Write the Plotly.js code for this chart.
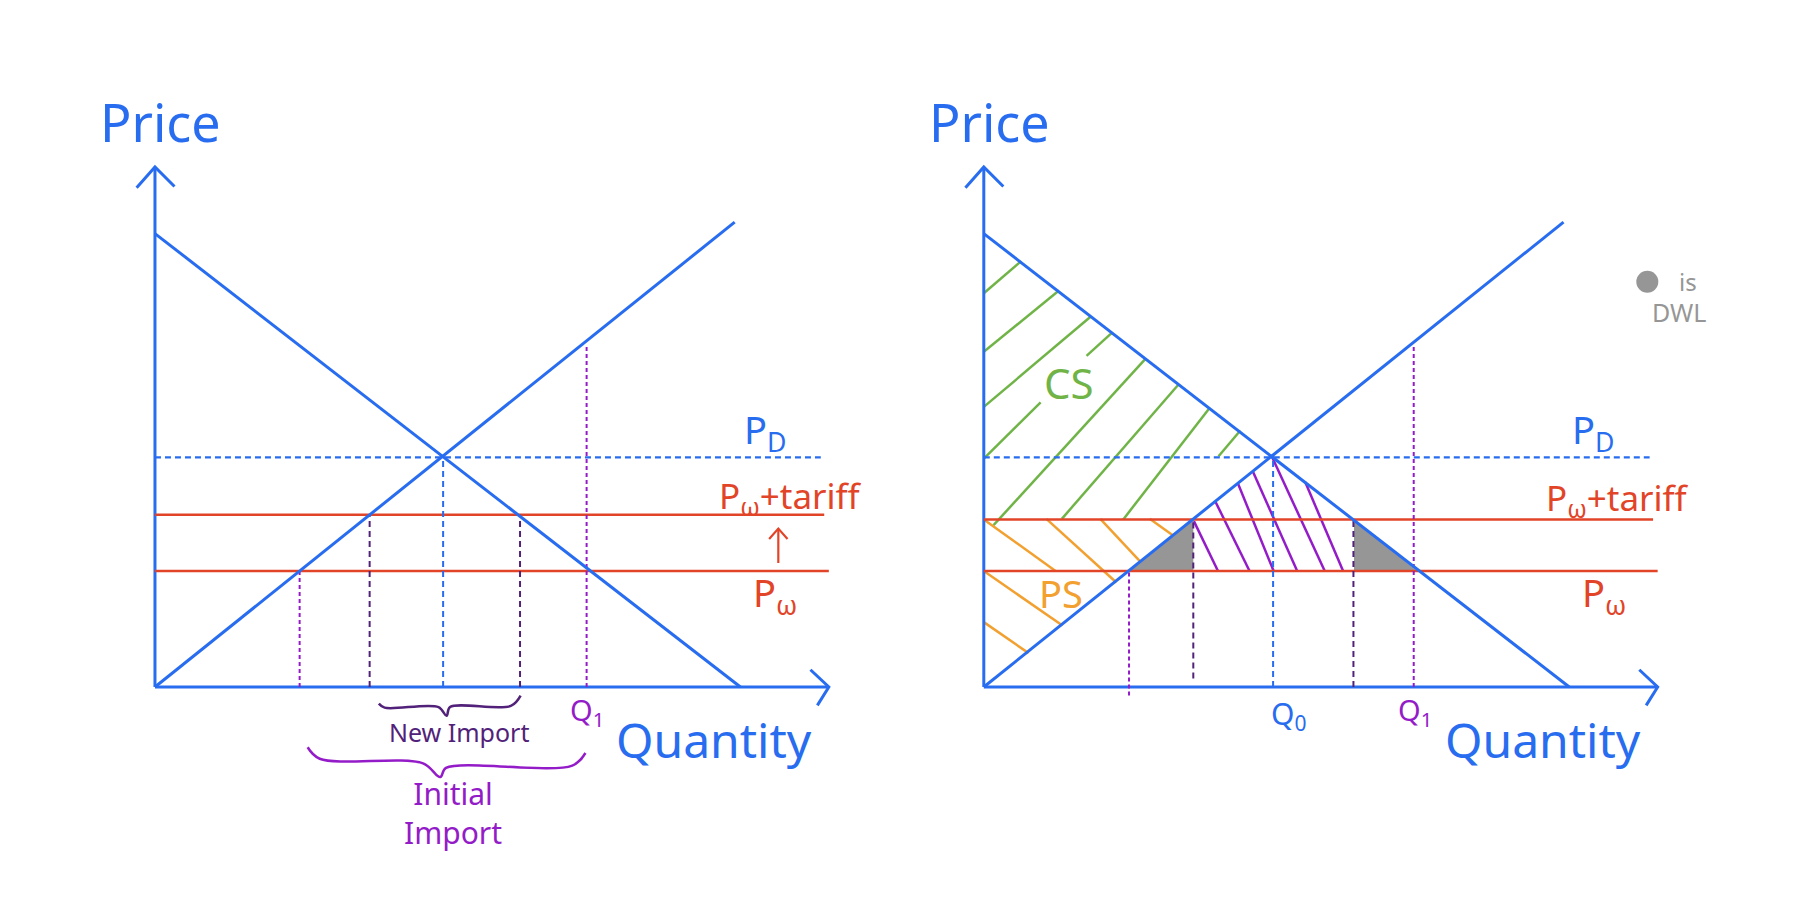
<!DOCTYPE html>
<html>
<head>
<meta charset="utf-8">
<script src="https://cdn.plot.ly/plotly-3.0.1.min.js"></script>
<style>html,body{margin:0;padding:0;background:#fff;}#chart{width:1800px;height:920px;}</style>
</head>
<body>
<div id="chart"></div>
<script>
// ---------- data (economic units) ----------
const demandQ = [0, 10.2];
const demandP = [7.9, 0];
const supplyQ = [0, 10.1];
const supplyP = [0, 8.1];
const priceDomestic = 4.0;
const priceWorld = 2.02;
const priceTariffLeft = 3.0;
const priceTariffRight = 2.92;
const hLineEnds = [11.6, 11.66, 11.74];          // PD, Pw+tariff, Pw line ends
const axisEndQ = 11.74;
const axisEndP = 9.06;

// vertical guide lines: quantity, top price, bottom price
const leftVertQ = [2.52, 3.74, 5.02, 6.36, 7.52];
const leftVertTop = [2.02, 3.0, 4.0, 3.0, 5.95];
const leftVertBottom = [0, 0, 0, 0, 0];
const rightVertQ = [2.53, 3.65, 5.04, 6.44, 7.49];
const rightVertTop = [2.02, 2.92, 4.0, 2.92, 5.94];
const rightVertBottom = [-0.15, 0.15, 0, 0, 0];

// hatch segments [q0, p0, q1, p1]
const csHatch = [
  [0, 6.86, 0.65, 7.42],
  [0, 5.84, 1.31, 6.91],
  [0, 4.88, 1.87, 6.46],
  [0, 3.98, 0.99, 4.96],
  [1.79, 5.77, 2.24, 6.18],
  [0.17, 2.82, 2.82, 5.72],
  [1.36, 2.93, 3.40, 5.28],
  [2.43, 2.92, 3.94, 4.87],
  [4.09, 4.02, 4.47, 4.47]
];
const psHatch = [
  [0, 2.92, 1.25, 2.02],
  [1.09, 2.93, 2.31, 1.82],
  [2.03, 2.93, 2.73, 2.18],
  [2.89, 2.93, 3.31, 2.63],
  [0, 2.02, 1.37, 1.07],
  [0, 1.13, 0.78, 0.59]
];
const revHatch = [
  [3.66, 2.89, 4.08, 2.02],
  [4.04, 3.22, 4.63, 2.02],
  [4.43, 3.54, 5.05, 2.02],
  [4.69, 3.75, 5.46, 2.02],
  [5.02, 4.01, 5.94, 2.02],
  [5.60, 3.57, 6.26, 2.02]
];
const dwlLeftQ = [2.53, 3.65, 3.65];
const dwlLeftP = [2.02, 2.92, 2.02];
const dwlRightQ = [6.45, 6.45, 7.55];
const dwlRightP = [2.92, 2.02, 2.02];

// braces
const newBraceQ = [3.90, 4.0, 4.94, 5.08, 5.14, 6.2, 6.37];
const newBraceP = [-0.29, -0.36, -0.35, -0.50, -0.35, -0.33, -0.15];
const initBraceQ = [2.66, 2.87, 4.67, 4.97, 5.07, 7.27, 7.5];
const initBraceP = [-1.05, -1.25, -1.33, -1.57, -1.41, -1.37, -1.15];

// ---------- styling ----------
const BLUE = 'rgb(40,108,240)';
const RED = 'rgb(226,68,40)';
const GREEN = 'rgb(112,180,72)';
const ORANGE = 'rgb(242,160,48)';
const PURPLE = 'rgb(148,28,200)';
const DPURPLE = 'rgb(82,34,122)';
const GREY = 'rgb(150,150,150)';
const FONT = 'Noto Sans, sans-serif';

const traces = [];
function line(xs, ys, color, width, dash, xa, shape) {
  traces.push({type: 'scatter', mode: 'lines', x: xs, y: ys, xaxis: xa, yaxis: 'y',
    line: {color: color, width: width, dash: dash || 'solid', shape: shape || 'linear'},
    hoverinfo: 'skip', showlegend: false});
}
function segs(list, color, width, xa) {
  list.forEach(s => line([s[0], s[2]], [s[1], s[3]], color, width, 'solid', xa));
}

function panel(xa, tariffP, vQ, vTop, vBot) {
  // axes
  line([0, 0], [0, axisEndP], BLUE, 3, 'solid', xa);
  line([-0.32, 0, 0.34], [axisEndP - 0.36, axisEndP, axisEndP - 0.34], BLUE, 3, 'solid', xa);
  line([0, axisEndQ], [0, 0], BLUE, 3, 'solid', xa);
  line([axisEndQ - 0.32, axisEndQ, axisEndQ - 0.2], [0.3, 0, -0.32], BLUE, 3, 'solid', xa);
  // horizontal price lines
  line([0, hLineEnds[0]], [priceDomestic, priceDomestic], BLUE, 2.2, '6px,4px', xa);
  line([0, hLineEnds[1]], [tariffP, tariffP], RED, 2.5, 'solid', xa);
  line([0, hLineEnds[2]], [priceWorld, priceWorld], RED, 2.5, 'solid', xa);
  // verticals
  const vStyle = [[PURPLE, '4px,3px'], [DPURPLE, '6px,4px'], [BLUE, '6px,4px'], [DPURPLE, '6px,4px'], [PURPLE, '4px,3px']];
  vQ.forEach((q, i) => line([q, q], [vBot[i], vTop[i]], vStyle[i][0], 2, vStyle[i][1], xa));
  // demand & supply
  line(demandQ, demandP, BLUE, 3, 'solid', xa);
  line(supplyQ, supplyP, BLUE, 3, 'solid', xa);
}

// right-panel fills (drawn under lines)
[[dwlLeftQ, dwlLeftP], [dwlRightQ, dwlRightP]].forEach(t => {
  traces.push({type: 'scatter', mode: 'lines', x: t[0], y: t[1], xaxis: 'x2', yaxis: 'y',
    fill: 'toself', fillcolor: GREY, line: {width: 0, color: GREY}, hoverinfo: 'skip', showlegend: false});
});

panel('x', priceTariffLeft, leftVertQ, leftVertTop, leftVertBottom);
segs(csHatch, GREEN, 2.5, 'x2');
segs(psHatch, ORANGE, 2.5, 'x2');
segs(revHatch, PURPLE, 2.5, 'x2');
panel('x2', priceTariffRight, rightVertQ, rightVertTop, rightVertBottom);

// tariff arrow (left)
line([10.86, 10.86], [2.16, 2.76], RED, 2.2, 'solid', 'x');
line([10.70, 10.86, 11.02], [2.58, 2.76, 2.58], RED, 2.2, 'solid', 'x');

// braces
line(newBraceQ, newBraceP, DPURPLE, 2.5, 'solid', 'x', 'spline');
line(initBraceQ, initBraceP, PURPLE, 2.5, 'solid', 'x', 'spline');

// DWL legend dot
traces.push({type: 'scatter', mode: 'markers', x: [11.56], y: [7.06], xaxis: 'x2', yaxis: 'y',
  marker: {color: GREY, size: 22}, hoverinfo: 'skip', showlegend: false});

function ann(xa, q, p, text, color, size) {
  return {xref: xa, yref: 'y', x: q, y: p, text: text, showarrow: false,
    xanchor: 'center', yanchor: 'middle', font: {family: FONT, size: size, color: color}};
}
const annotations = [];
['x', 'x2'].forEach(xa => {
  annotations.push(ann(xa, 0.1, 9.86, 'Price', BLUE, 52));
  annotations.push(ann(xa, 9.74, -0.92, 'Quantity', BLUE, 48));
  annotations.push(ann(xa, 10.62, 4.46, 'P<sub>D</sub>', BLUE, 38));
  annotations.push(ann(xa, 10.8, 1.62, 'P<sub>ω</sub>', RED, 38));
  annotations.push(ann(xa, 7.52, -0.42, 'Q<sub>1</sub>', PURPLE, 29));
});
annotations.push(ann('x', 11.08, 3.30, 'P<sub>ω</sub>+tariff', RED, 35));
annotations.push(ann('x2', 11.04, 3.26, 'P<sub>ω</sub>+tariff', RED, 35));
annotations.push(ann('x', 5.3, -0.78, 'New Import', DPURPLE, 25));
annotations.push(ann('x', 5.2, -2.2, 'Initial<br>Import', PURPLE, 30));
annotations.push(ann('x2', 5.3, -0.48, 'Q<sub>0</sub>', BLUE, 30));
annotations.push(ann('x2', 1.48, 5.31, 'CS', GREEN, 42));
annotations.push(ann('x2', 1.34, 1.64, 'PS', ORANGE, 38));
annotations.push(ann('x2', 12.26, 7.06, 'is', GREY, 24));
annotations.push(ann('x2', 12.12, 6.54, 'DWL', GREY, 25));

const layout = {
  width: 1800, height: 920,
  margin: {l: 0, r: 0, t: 0, b: 0},
  paper_bgcolor: '#ffffff', plot_bgcolor: '#ffffff',
  showlegend: false,
  xaxis: {domain: [0, 0.5], range: [-2.70, 12.98], visible: false, fixedrange: true},
  xaxis2: {domain: [0.5, 1], range: [-1.46, 14.22], visible: false, fixedrange: true, anchor: 'y'},
  yaxis: {domain: [0, 1], range: [-4.06, 11.97], visible: false, fixedrange: true},
  annotations: annotations
};
Plotly.newPlot('chart', traces, layout, {displayModeBar: false});
</script>
</body>
</html>
